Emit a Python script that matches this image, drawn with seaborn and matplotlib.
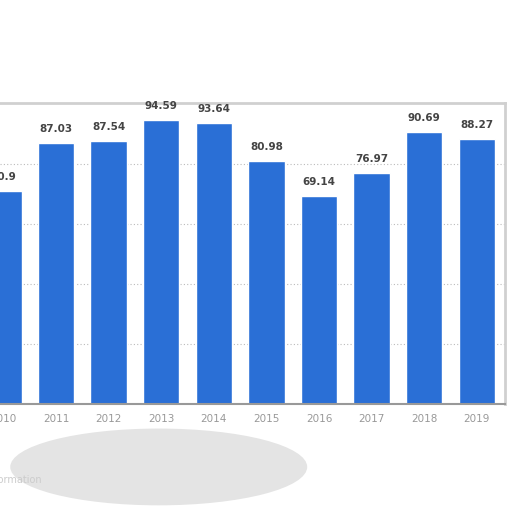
import matplotlib
matplotlib.use('Agg')
import matplotlib.pyplot as plt
import seaborn as sb
import pandas as pd
from matplotlib.patches import Ellipse

# valores
anos = ['2010', '2011', '2012', '2013', '2014', '2015', '2016', '2017', '2018', '2019']
valores = [70.9, 87.03, 87.54, 94.59, 93.64, 80.98, 69.14, 76.97, 90.69, 88.27]
rotulos = ['70.9', '87.03', '87.54', '94.59', '93.64', '80.98', '69.14', '76.97', '90.69', '88.27']

dataset = pd.DataFrame({'ano': anos, 'valor': valores})

sb.set_style('white')
plt.rcParams['font.family'] = ['DejaVu Sans']

fig = plt.figure(figsize=(5.12, 5.12), dpi=100)

# mancha cinza embaixo do grafico (atras de tudo)
fig.patches.append(Ellipse((0.31, 0.088), 0.58, 0.15, transform=fig.transFigure,
                           facecolor='#e4e4e4', edgecolor='none', zorder=-5))

ax = fig.add_axes([0, 0.211, 505 / 512, 0.588])
ax.set_zorder(2)

sb.barplot(data=dataset, x='ano', y='valor', color='#2a6fd6', width=0.69,
           saturation=1, ax=ax)

# rotulos de valor em cima das barras
for i, (v, r) in enumerate(zip(valores, rotulos)):
    ax.text(i, v + 3, r, ha='center', va='bottom', fontsize=7.5,
            fontweight='bold', color='#444444')

ax.set_xlim(-0.065, 9.536)
ax.set_ylim(0, 100.3)
ax.set_yticks([20, 40, 60, 80])
ax.yaxis.grid(True, linestyle=(0, (1, 2)), color='#bbbbbb', linewidth=0.8)
ax.set_axisbelow(True)
ax.tick_params(axis='y', left=False, labelleft=False)
ax.tick_params(axis='x', bottom=False, labelsize=7.5, labelcolor='#999999', pad=4)
ax.set_xlabel('')
ax.set_ylabel('')
ax.spines['left'].set_visible(False)
ax.spines['top'].set_color('#d0d0d0')
ax.spines['top'].set_linewidth(2)
ax.spines['right'].set_color('#d0d0d0')
ax.spines['right'].set_linewidth(2)
ax.spines['bottom'].set_color('#999999')
ax.spines['bottom'].set_linewidth(1.5)

fig.text(0.082, 0.062, 'Additional Information', ha='right', va='center',
         fontsize=7, color='#cccccc', zorder=3)

fig.savefig('out.png', dpi=100)
